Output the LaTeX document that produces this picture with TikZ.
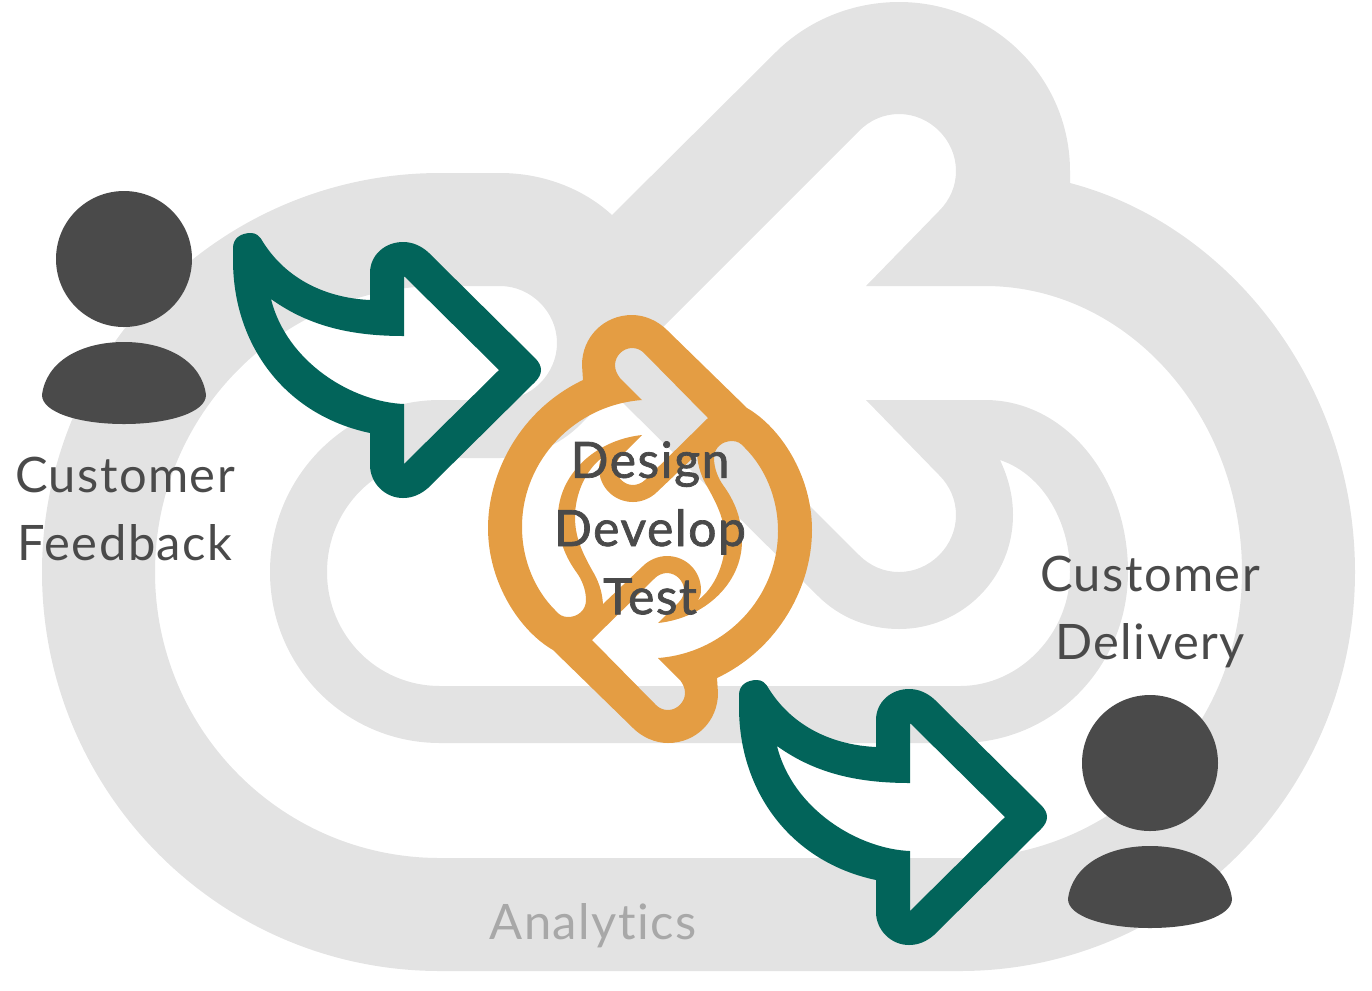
\documentclass[tikz,border=0pt]{standalone}
\usepackage{fontspec}
\setmainfont[LetterSpace=3,Ligatures=NoCommon]{Lato}
\newfontfamily\midfont[FakeBold=1.4,LetterSpace=3,Ligatures=NoCommon]{Lato}
\definecolor{loopgray}{HTML}{E3E3E3}
\definecolor{cycleorange}{HTML}{E49D43}
\definecolor{flowteal}{HTML}{02645A}
\definecolor{persongray}{HTML}{4A4A4A}
\definecolor{labelgray}{HTML}{A8A8A8}
\tikzset{
	lbl/.style={inner sep=0pt, align=center, text=persongray, font=\fontsize{13.9}{19.4}\selectfont}
}
\def\personicon(#1,#2){
	\begin{scope}[shift={(#1,#2)}]
		\fill[persongray] (124,259) circle (68);
		\fill[persongray] (42,395) .. controls (46,362) and (80,342) .. (124,342)
			.. controls (168,342) and (202,362) .. (206,395)
			.. controls (206,412) and (170,424) .. (124,424)
			.. controls (78,424) and (42,412) .. (42,395) -- cycle;
	\end{scope}
}
\def\flowarrow(#1,#2){
	\begin{scope}[shift={(#1,#2)}]
		\fill[flowteal, even odd rule]
			(263,242) .. controls (287,280) and (327,298) .. (370,300) -- (370,273)
			.. controls (370,255) and (385,242) .. (403,242)
			.. controls (413,242) and (421,246) .. (428,252) -- (535,358)
			.. controls (539,362) and (541,366) .. (541,370)
			.. controls (541,374) and (539,378) .. (535,382) -- (428,488)
			.. controls (421,494) and (413,498) .. (403,498)
			.. controls (385,498) and (370,483) .. (370,465) -- (370,433)
			.. controls (285,415) and (233,345) .. (233,260) -- (233,248)
			.. controls (233,238) and (241,233) .. (251,233)
			.. controls (256,233) and (260,236) .. (263,242) -- cycle
			(404,276) -- (499,370) -- (404,464) -- (404,404)
			.. controls (353,402) and (287,363) .. (271,299)
			.. controls (310,327) and (353,336) .. (404,336) -- cycle;
	\end{scope}
}

\begin{document}
\begin{tikzpicture}[x=0.01cm, y=-0.01cm]
	%%%%% START %%%%%
	\useasboundingbox (0,0) rectangle (1372,990);

	% big loop behind everything
	\fill[loopgray, even odd rule]
		(612,215) .. controls (585,190) and (545,173) .. (500,173) -- (440,173)
		.. controls (220,173) and (42,352) .. (42,572)
		.. controls (42,792) and (220,971) .. (440,971) -- (960,971)
		.. controls (1178,971) and (1355,792) .. (1355,572)
		.. controls (1355,385) and (1230,225) .. (1070,183) -- (1070,171)
		.. controls (1070,78) and (994,2) .. (899,2)
		.. controls (854,2) and (811,19) .. (779,49) -- cycle
		(866,286) -- (985,286)
		.. controls (1127,286) and (1242,415) .. (1242,572)
		.. controls (1242,730) and (1115,858) .. (960,858) -- (440,858)
		.. controls (282,858) and (155,730) .. (155,572)
		.. controls (155,414) and (282,286) .. (440,286) -- (500,286)
		.. controls (531,286) and (557,312) .. (557,343)
		.. controls (557,374) and (531,400) .. (500,400) -- (440,400)
		.. controls (346,400) and (270,477) .. (270,572)
		.. controls (270,667) and (346,743) .. (440,743) -- (960,743)
		.. controls (1053,743) and (1128,667) .. (1128,572)
		.. controls (1128,477) and (1065,400) .. (985,400) -- (866,400) -- (939,475)
		.. controls (950,486) and (956,500) .. (956,515)
		.. controls (956,546) and (930,572) .. (899,572)
		.. controls (884,572) and (870,566) .. (859,555) -- (647,343) -- (859,131)
		.. controls (870,120) and (884,114) .. (899,114)
		.. controls (930,114) and (956,140) .. (956,171)
		.. controls (956,186) and (950,200) .. (939,211) -- cycle
		(1000,460) .. controls (1045,475) and (1070,525) .. (1070,572)
		.. controls (1070,633) and (1020,686) .. (960,686) -- (440,686)
		.. controls (377,686) and (327,635) .. (327,572)
		.. controls (327,509) and (377,458) .. (440,458) -- (500,458)
		.. controls (530,458) and (559,446) .. (581,424) -- (612,392) -- (818,596)
		.. controls (840,618) and (869,629) .. (899,629)
		.. controls (962,629) and (1013,578) .. (1013,515)
		.. controls (1013,495) and (1008,477) .. (1000,460) -- cycle;

	% the two orange arrows
	\fill[cycleorange, even odd rule]
		(583,380) -- (582,365) .. controls (582,337) and (604,315) .. (632,315)
		.. controls (645,315) and (658,321) .. (667,330) -- (747,408)
		.. controls (780,427) and (812,475) .. (812,530)
		.. controls (812,585) and (780,648) .. (717,678) -- (718,693)
		.. controls (718,721) and (696,743) .. (668,743)
		.. controls (655,743) and (642,737) .. (633,728) -- (553,650)
		.. controls (520,631) and (488,583) .. (488,528)
		.. controls (488,473) and (520,410) .. (583,380) -- cycle
		(642,400) -- (620,378) .. controls (617,374) and (615,370) .. (615,365)
		.. controls (615,356) and (623,348) .. (632,348)
		.. controls (637,348) and (641,350) .. (644,353) -- (708,418) -- (645,480)
		.. controls (642,483) and (637,485) .. (633,485)
		.. controls (624,485) and (616,477) .. (616,468)
		.. controls (616,463) and (618,459) .. (621,456) -- (642,435)
		.. controls (595,440) and (558,475) .. (558,517)
		.. controls (558,540) and (566,558) .. (577,573)
		.. controls (582,580) and (586,590) .. (586,600)
		.. controls (586,610) and (578,617) .. (568,617)
		.. controls (563,617) and (559,615) .. (555,610)
		.. controls (535,590) and (522,560) .. (522,527)
		.. controls (522,460) and (575,405) .. (642,400) -- cycle
		(658,658) -- (680,680) .. controls (683,684) and (685,688) .. (685,693)
		.. controls (685,702) and (677,710) .. (668,710)
		.. controls (663,710) and (659,708) .. (656,705) -- (592,640) -- (655,578)
		.. controls (658,575) and (663,573) .. (667,573)
		.. controls (676,573) and (684,581) .. (684,590)
		.. controls (684,595) and (682,599) .. (679,602) -- (658,623)
		.. controls (705,618) and (742,583) .. (742,541)
		.. controls (742,518) and (734,500) .. (723,485)
		.. controls (718,478) and (714,468) .. (714,458)
		.. controls (714,448) and (722,441) .. (732,441)
		.. controls (737,441) and (741,443) .. (745,448)
		.. controls (765,468) and (778,498) .. (778,531)
		.. controls (778,598) and (725,653) .. (658,658) -- cycle
		(575,517) .. controls (575,495) and (585,470) .. (603,457)
		.. controls (600,460) and (599,464) .. (599,468)
		.. controls (599,487) and (614,502) .. (633,502)
		.. controls (642,502) and (651,498) .. (657,492) -- (697,454)
		.. controls (698,468) and (702,478) .. (708,488)
		.. controls (718,506) and (725,521) .. (725,541)
		.. controls (725,563) and (715,588) .. (697,601)
		.. controls (700,598) and (701,594) .. (701,590)
		.. controls (701,571) and (686,556) .. (667,556)
		.. controls (658,556) and (649,560) .. (643,566) -- (603,604)
		.. controls (602,590) and (598,580) .. (592,570)
		.. controls (582,552) and (575,537) .. (575,517) -- cycle;

	\flowarrow(0,0)
	\flowarrow(506,447)

	\personicon(0,0)
	\personicon(1026,504)

	\node[lbl] (feedback) at (125,509) {Customer\\Feedback};
	\node[lbl] (delivery) at (1150,612) {Customer\\Delivery};
	\node[lbl, font=\fontsize{14.2}{19.4}\selectfont\midfont] (cycle) at (650,528) {Design\\Develop\\Test};
	\node[lbl, text=labelgray] (analytics) at (593,926) {Analytics};
	%%%%% END %%%%%
\end{tikzpicture}
\end{document}
